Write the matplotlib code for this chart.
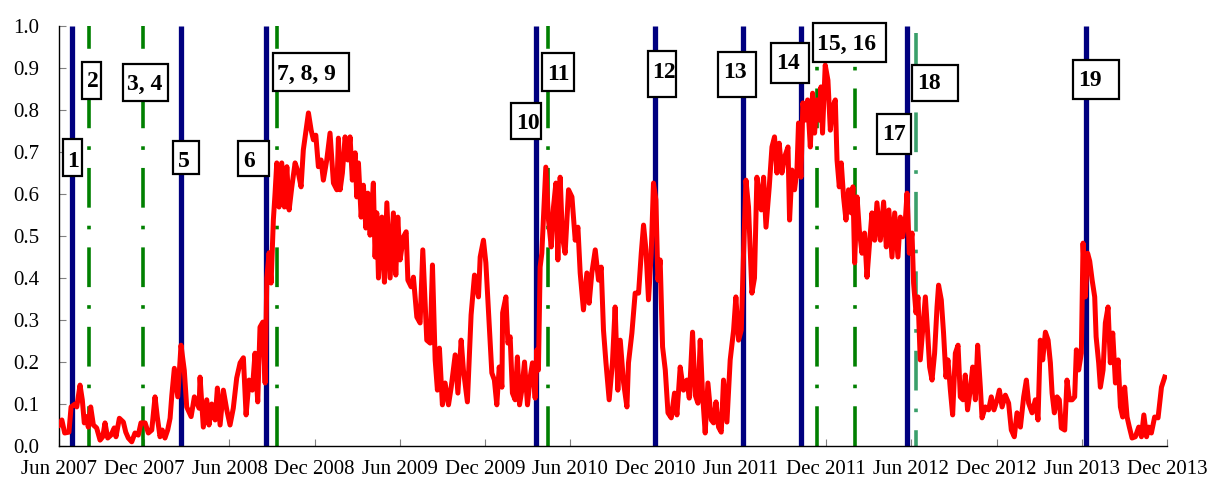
import matplotlib
matplotlib.use("Agg")
import matplotlib.pyplot as plt
from matplotlib.patches import Rectangle

# ---- data -------------------------------------------------------------
# time axis in months after Jun 2007
months = [0.0, 0.2, 0.4, 0.7, 0.85, 1.13, 1.25, 1.48, 1.64, 1.78, 1.95, 2.06, 2.23, 2.42, 2.65, 2.89,
          3.08, 3.24, 3.43, 3.66, 3.89, 4.01, 4.25, 4.53, 4.70, 4.88, 5.12, 5.35, 5.58, 5.77, 6.06,
          6.29, 6.53, 6.76, 6.92, 7.11, 7.27, 7.46, 7.65, 7.82, 7.94, 8.12, 8.36, 8.59, 8.82, 8.99,
          9.30, 9.53, 9.86, 9.93, 10.16, 10.40, 10.56, 10.75, 10.99, 11.15, 11.34, 11.57, 11.81,
          12.04, 12.27, 12.51, 12.75, 12.98, 13.17, 13.38, 13.61, 13.80, 13.99, 14.15, 14.35, 14.51,
          14.63, 14.79, 14.93, 15.09, 15.21, 15.33, 15.49, 15.68, 15.87, 16.04, 16.20, 16.39, 16.62,
          16.85, 17.04, 17.20, 17.39, 17.56, 17.75, 17.91, 18.08, 18.26, 18.45, 18.61, 18.85, 19.08,
          19.32, 19.56, 19.67, 19.79, 19.95, 20.14, 20.33, 20.49, 20.65, 20.85, 20.96, 21.08, 21.27,
          21.43, 21.60, 21.74, 21.90, 22.13, 22.25, 22.37, 22.49, 22.73, 22.91, 23.08, 23.31, 23.54,
          23.71, 23.85, 24.01, 24.25, 24.44, 24.56, 24.79, 24.95, 25.19, 25.42, 25.61, 25.89, 26.13,
          26.29, 26.48, 26.64, 26.78, 26.99, 27.18, 27.42, 27.61, 27.89, 28.08, 28.31, 28.47, 28.75,
          29.01, 29.25, 29.53, 29.65, 29.88, 30.05, 30.28, 30.47, 30.65, 30.82, 30.99, 31.18, 31.23,
          31.46, 31.60, 31.76, 31.92, 32.11, 32.27, 32.42, 32.58, 32.77, 32.98, 33.17, 33.33, 33.52,
          33.64, 33.75, 33.87, 33.99, 34.11, 34.27, 34.46, 34.65, 34.81, 34.98, 35.12, 35.28, 35.44,
          35.63, 35.87, 36.11, 36.34, 36.53, 36.69, 36.92, 37.16, 37.32, 37.51, 37.75, 37.98, 38.17,
          38.33, 38.50, 38.73, 38.96, 39.15, 39.34, 39.51, 39.74, 39.98, 40.09, 40.33, 40.56, 40.80,
          40.99, 41.15, 41.32, 41.50, 41.69, 41.85, 42.02, 42.16, 42.32, 42.49, 42.68, 42.87, 43.10,
          43.33, 43.50, 43.73, 43.96, 44.20, 44.37, 44.60, 44.79, 44.98, 45.14, 45.30, 45.49, 45.68,
          45.92, 46.08, 46.25, 46.43, 46.62, 46.78, 47.02, 47.25, 47.49, 47.65, 47.84, 48.03, 48.19,
          48.36, 48.54, 48.78, 48.96, 49.13, 49.30, 49.44, 49.60, 49.77, 50.00, 50.19, 50.37, 50.54,
          50.70, 50.89, 51.08, 51.32, 51.43, 51.60, 51.78, 51.95, 52.06, 52.23, 52.37, 52.54, 52.70,
          52.89, 53.05, 53.19, 53.36, 53.52, 53.64, 53.75, 53.94, 54.13, 54.30, 54.46, 54.65, 54.77,
          54.93, 55.07, 55.23, 55.40, 55.58, 55.77, 55.89, 56.01, 56.18, 56.34, 56.53, 56.71, 56.88,
          57.04, 57.23, 57.42, 57.58, 57.82, 58.05, 58.24, 58.42, 58.64, 58.83, 59.06, 59.23, 59.39,
          59.58, 59.70, 59.86, 60.05, 60.16, 60.33, 60.47, 60.63, 60.80, 60.99, 61.15, 61.29, 61.46,
          61.64, 61.81, 61.92, 62.11, 62.27, 62.44, 62.58, 62.75, 62.91, 63.10, 63.29, 63.45, 63.64,
          63.80, 63.96, 64.15, 64.32, 64.51, 64.67, 64.86, 64.98, 65.21, 65.44, 65.63, 65.82, 66.04,
          66.20, 66.39, 66.62, 66.85, 67.04, 67.25, 67.44, 67.68, 67.91, 68.10, 68.26, 68.50, 68.73,
          68.92, 69.08, 69.25, 69.44, 69.63, 69.79, 69.91, 70.07, 70.26, 70.42, 70.56, 70.80, 70.96,
          71.13, 71.32, 71.50, 71.62, 71.78, 71.97, 72.09, 72.25, 72.41, 72.56, 72.73, 72.91, 73.01,
          73.19, 73.31, 73.50, 73.66, 73.85, 74.01, 74.18, 74.37, 74.56, 74.72, 74.88, 75.02, 75.19,
          75.35, 75.54, 75.77, 76.01, 76.20, 76.37, 76.56, 76.71, 76.90, 77.13, 77.37, 77.61, 77.84]

values = [0.05, 0.062, 0.031, 0.033, 0.093, 0.10, 0.093, 0.145, 0.11, 0.055, 0.07, 0.045, 0.093, 0.05,
          0.043, 0.014, 0.022, 0.055, 0.019, 0.026, 0.043, 0.022, 0.066, 0.057, 0.033, 0.019, 0.01,
          0.031, 0.026, 0.055, 0.055, 0.031, 0.038, 0.117, 0.069, 0.022, 0.038, 0.019, 0.038, 0.066,
          0.12, 0.185, 0.117, 0.24, 0.18, 0.093, 0.07, 0.117, 0.09, 0.164, 0.045, 0.11, 0.05, 0.10,
          0.062, 0.138, 0.05, 0.133, 0.086, 0.05, 0.09, 0.162, 0.198, 0.21, 0.074, 0.157, 0.133, 0.221,
          0.105, 0.283, 0.295, 0.15, 0.40, 0.46, 0.388, 0.538, 0.602, 0.674, 0.569, 0.674, 0.569, 0.665,
          0.562, 0.617, 0.674, 0.65, 0.617, 0.705, 0.752, 0.793, 0.752, 0.729, 0.74, 0.665, 0.681, 0.633,
          0.681, 0.745, 0.626, 0.61, 0.733, 0.61, 0.65, 0.736, 0.681, 0.736, 0.633, 0.698, 0.593, 0.674,
          0.545, 0.621, 0.519, 0.602, 0.502, 0.626, 0.45, 0.555, 0.40, 0.545, 0.39, 0.579, 0.40, 0.555,
          0.407, 0.545, 0.443, 0.498, 0.51, 0.395, 0.379, 0.402, 0.307, 0.293, 0.467, 0.252, 0.245,
          0.431, 0.205, 0.133, 0.233, 0.098, 0.15, 0.098, 0.14, 0.217, 0.126, 0.252, 0.181, 0.105,
          0.312, 0.407, 0.355, 0.45, 0.49, 0.436, 0.293, 0.174, 0.157, 0.098, 0.188, 0.14, 0.317,
          0.355, 0.245, 0.26, 0.126, 0.11, 0.212, 0.098, 0.133, 0.2, 0.098, 0.164, 0.198, 0.114,
          0.229, 0.181, 0.426, 0.459, 0.545, 0.664, 0.538, 0.474, 0.569, 0.626, 0.443, 0.64, 0.498,
          0.459, 0.61, 0.593, 0.49, 0.521, 0.412, 0.324, 0.412, 0.34, 0.412, 0.467, 0.395, 0.426,
          0.276, 0.2, 0.11, 0.198, 0.331, 0.133, 0.252, 0.152, 0.093, 0.198, 0.269, 0.364, 0.364,
          0.459, 0.526, 0.467, 0.348, 0.459, 0.626, 0.586, 0.395, 0.443, 0.236, 0.181, 0.079, 0.067,
          0.126, 0.074, 0.188, 0.133, 0.157, 0.114, 0.271, 0.121, 0.102, 0.252, 0.126, 0.031, 0.15,
          0.062, 0.055, 0.105, 0.045, 0.033, 0.157, 0.057, 0.205, 0.276, 0.355, 0.252, 0.276, 0.459,
          0.633, 0.569, 0.364, 0.40, 0.64, 0.60, 0.562, 0.64, 0.521, 0.617, 0.712, 0.736, 0.65,
          0.721, 0.65, 0.688, 0.712, 0.538, 0.657, 0.61, 0.657, 0.769, 0.64, 0.817, 0.776, 0.824,
          0.712, 0.84, 0.745, 0.824, 0.776, 0.855, 0.745, 0.907, 0.871, 0.752, 0.807, 0.824, 0.681,
          0.617, 0.674, 0.593, 0.538, 0.61, 0.555, 0.617, 0.436, 0.593, 0.514, 0.459, 0.507, 0.402,
          0.474, 0.555, 0.49, 0.579, 0.49, 0.581, 0.474, 0.562, 0.45, 0.555, 0.45, 0.545, 0.498,
          0.538, 0.602, 0.459, 0.507, 0.388, 0.317, 0.355, 0.205, 0.276, 0.355, 0.269, 0.188, 0.157,
          0.221, 0.331, 0.383, 0.348, 0.269, 0.164, 0.205, 0.133, 0.074, 0.221, 0.24, 0.117, 0.11,
          0.169, 0.086, 0.133, 0.188, 0.11, 0.24, 0.14, 0.067, 0.093, 0.086, 0.117, 0.086, 0.11,
          0.133, 0.093, 0.121, 0.102, 0.038, 0.022, 0.079, 0.045, 0.117, 0.157, 0.102, 0.079, 0.11,
          0.062, 0.252, 0.205, 0.271, 0.252, 0.198, 0.126, 0.079, 0.117, 0.11, 0.043, 0.038, 0.157,
          0.11, 0.11, 0.117, 0.229, 0.181, 0.221, 0.483, 0.355, 0.459, 0.44, 0.395, 0.355, 0.26,
          0.198, 0.14, 0.181, 0.293, 0.331, 0.198, 0.269, 0.15, 0.205, 0.093, 0.069, 0.14, 0.069,
          0.045, 0.019, 0.022, 0.045, 0.022, 0.074, 0.022, 0.045, 0.031, 0.069, 0.067, 0.14, 0.164]

blue_events = [0.92, 8.59, 14.58, 33.59, 41.97, 48.17, 52.25, 59.72, 72.32]
green_events = [2.11, 5.92, 15.35, 34.44, 53.38, 56.06]
light_green_events = [60.35]

tick_pos = [0, 6, 12, 18, 24, 30, 36, 42, 48, 54, 60, 66, 72, 78]
tick_labels = ["Jun 2007", "Dec 2007", "Jun 2008", "Dec 2008", "Jun 2009", "Dec 2009", "Jun 2010",
               "Dec 2010", "Jun 2011", "Dec 2011", "Jun 2012", "Dec 2012", "Jun 2013", "Dec 2013"]

event_labels = ["1", "2", "3, 4", "5", "6", "7, 8, 9", "10", "11", "12", "13", "14",
                "15, 16", "17", "18", "19"]

# ---- layout of the label boxes ----------------------------------------
text_x = [0.99, 2.36, 6.06, 8.80, 13.35, 17.39, 32.99, 35.18, 42.57, 47.61, 51.30,
          55.46, 58.77, 61.27, 72.57]
text_base = [0.664, 0.855, 0.848, 0.664, 0.664, 0.871, 0.755, 0.871, 0.876, 0.876, 0.898,
             0.943, 0.729, 0.850, 0.857]
box_left = [0.28, 1.62, 4.51, 8.03, 12.61, 15.07, 31.83, 34.01, 41.48, 46.41, 50.14,
            53.10, 57.61, 60.07, 71.40]
box_w = [1.34, 1.34, 3.17, 1.83, 2.18, 5.35, 2.11, 2.25, 1.97, 2.68, 2.68,
         5.14, 2.39, 3.24, 3.24]
box_bottom = [0.643, 0.826, 0.821, 0.648, 0.643, 0.845, 0.731, 0.845, 0.831, 0.831, 0.864,
              0.914, 0.695, 0.821, 0.826]
box_h = [0.088, 0.088, 0.088, 0.078, 0.083, 0.090, 0.086, 0.090, 0.110, 0.107, 0.095,
         0.093, 0.095, 0.086, 0.093]

# ---- figure -----------------------------------------------------------
plt.rcParams["font.family"] = ["Liberation Serif", "DejaVu Serif"]
fig = plt.figure(figsize=(12.11, 4.82), dpi=100)
ax = fig.add_axes([59 / 1211, 36 / 482, 1108 / 1211, 420 / 482])

for x in blue_events:
    ax.axvline(x, color="#000080", lw=3.8, zorder=2, solid_capstyle="butt")
for x in green_events:
    ax.axvline(x, color="#008000", lw=2.6, dashes=(11, 5, 1, 5), zorder=2)
for x in light_green_events:
    ax.plot([x, x], [0.983, 0.0], color="#3a9f6b", lw=2.6, dashes=(11, 5, 1, 5), zorder=2)

ax.plot(months, values, color="#ff0000", lw=3.6, zorder=3, solid_joinstyle="round")

for i, txt in enumerate(event_labels):
    ax.add_patch(Rectangle((box_left[i], box_bottom[i]), box_w[i], box_h[i], fc="white",
                           ec="black", lw=1.6, zorder=5, clip_on=False))
    ax.text(text_x[i], text_base[i], txt, ha="center", va="baseline", fontsize=17,
            fontweight="bold", zorder=6)

ax.set_xlim(0, 78)
ax.set_ylim(0, 1.0)
ax.set_xticks(tick_pos)
ax.set_xticklabels(tick_labels)
ax.set_yticks([i / 10 for i in range(11)])
ax.set_yticklabels([f"{i / 10:.1f}" for i in range(11)])
ax.tick_params(axis="both", direction="in", length=5, color="#808080", labelsize=15)
ax.tick_params(axis="y", pad=14)
ax.tick_params(axis="x", pad=10)
for s in ["top", "right"]:
    ax.spines[s].set_visible(False)
for s in ["left", "bottom"]:
    ax.spines[s].set_linewidth(1.0)
    ax.spines[s].set_color("black")

fig.savefig("out.png", dpi=100)
